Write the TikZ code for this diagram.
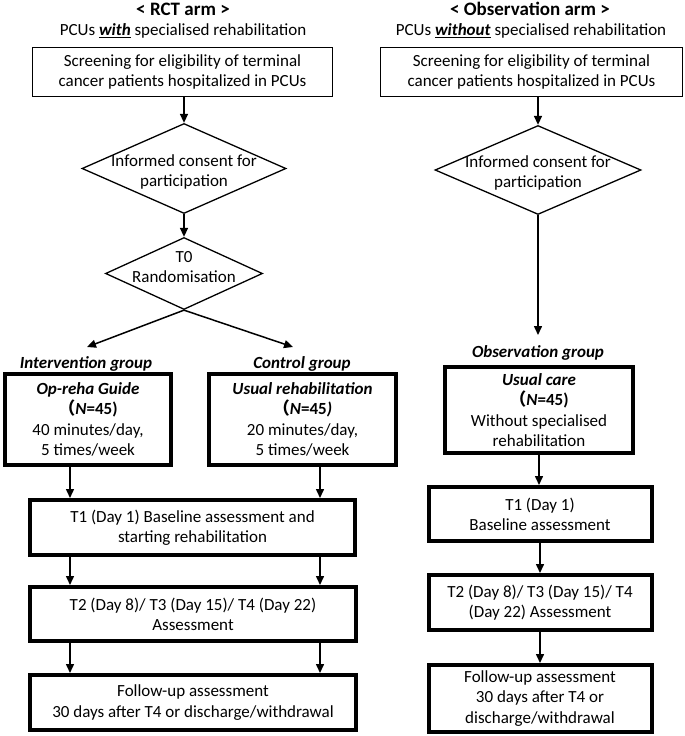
\documentclass[tikz,border=0pt]{standalone}
\usepackage{fontspec}
\setmainfont{Carlito}
\newfontfamily\cjkfont{Noto Sans CJK JP}
\usetikzlibrary{arrows.meta,shapes.geometric}
\begin{document}
\begin{tikzpicture}[x=1pt,y=-1pt,
  every node/.style={font=\fontsize{17}{20.3}\selectfont, inner sep=0pt},
  thinbox/.style={draw, line width=1.3pt, align=center},
  thickbox/.style={draw, line width=4pt, align=center},
  dia/.style={draw, diamond, line width=1.3pt},
  arr/.style={line width=1.5pt, -{Triangle[length=9pt,width=8pt]}},
  ttl/.style={font=\fontsize{19}{23}\selectfont\bfseries},
  grp/.style={font=\fontsize{17}{20}\selectfont\bfseries\itshape},
]
\useasboundingbox (0,0) rectangle (685,736);

% ---------- RCT arm ----------
\node[ttl] (t1) at (183,9) {< RCT arm >};
\node (s1) at (183,31) {PCUs \underline{\textbf{\textit{with}}} specialised rehabilitation};
\node[thinbox, minimum width=300pt, minimum height=49pt] (scr1) at (182.5,72)
  {Screening for eligibility of terminal\\cancer patients hospitalized in PCUs};
\node[dia, minimum width=204pt, minimum height=90pt] (d1) at (184,168.5) {};
\node[align=center] (d1t) at (184,172) {Informed consent for\\participation};
\node[dia, minimum width=157pt, minimum height=72pt] (d0) at (184,273.5) {};
\node[align=center] (d0t) at (184,267) {T0\\Randomisation};
\coordinate (gl) at (87,347);
\coordinate (gr) at (293,347);
\node[grp] (ig) at (86,364) {Intervention group};
\node[grp] (cg) at (302,364) {Control group};
\node[thickbox, minimum width=166pt, minimum height=91pt] (ib) at (88,419.5)
  {\textbf{\textit{Op-reha Guide}}\\\textbf{{\cjkfont （}\textit{N}=45)}\\40 minutes/day,\\5 times/week};
\node[thickbox, minimum width=187pt, minimum height=91pt] (cb) at (302.5,419.5)
  {\textbf{\textit{Usual rehabilitation}}\\\textbf{{\cjkfont （}\textit{N}=45\textit{)}}\\20 minutes/day,\\5 times/week};
\node[thickbox, minimum width=325pt, minimum height=55pt] (t1l) at (192.5,527.5)
  {T1 (Day 1) Baseline assessment and\\starting rehabilitation};
\node[thickbox, minimum width=326pt, minimum height=54pt] (t2l) at (193,614)
  {T2 (Day 8)/ T3 (Day 15)/ T4 (Day 22)\\Assessment};
\node[thickbox, minimum width=326pt, minimum height=55pt] (ful) at (193,702.5)
  {Follow-up assessment\\30 days after T4 or discharge/withdrawal};

\coordinate (xl) at (70,0);
\coordinate (xr) at (320,0);
\draw[arr] (scr1.south -| d1.north) -- (d1.north);
\draw[arr] (d1.south) -- (d0.north);
\draw[arr] (d0.south) -- (gl);
\draw[arr] (d0.south) -- (gr);
\draw[arr] (ib.south -| xl) -- (t1l.north -| xl);
\draw[arr] (cb.south -| xr) -- (t1l.north -| xr);
\draw[arr] (t1l.south -| xl) -- (t2l.north -| xl);
\draw[arr] (t1l.south -| xr) -- (t2l.north -| xr);
\draw[arr] (t2l.south -| xl) -- (ful.north -| xl);
\draw[arr] (t2l.south -| xr) -- (ful.north -| xr);

% ---------- Observation arm ----------
\node[ttl] (t2) at (530,9) {< Observation arm >};
\node (s2) at (531,31) {PCUs \underline{\textbf{\textit{without}}} specialised rehabilitation};
\node[thinbox, minimum width=302pt, minimum height=49pt] (scr2) at (531.5,72)
  {Screening for eligibility of terminal\\cancer patients hospitalized in PCUs};
\node[dia, minimum width=206pt, minimum height=89pt] (d2) at (538,170) {};
\node[align=center] (d2t) at (538,173) {Informed consent for\\participation};
\coordinate (og) at (538,335);
\node[grp] (obg) at (538,353) {Observation group};
\node[thickbox, minimum width=188pt, minimum height=86pt] (ub) at (539,410)
  {\textbf{\textit{Usual care}}\\\textbf{{\cjkfont （}\textit{N}=45)}\\Without specialised\\rehabilitation};
\node[thickbox, minimum width=223pt, minimum height=54pt] (t1r) at (540,514)
  {T1 (Day 1)\\Baseline assessment};
\node[thickbox, minimum width=223pt, minimum height=55pt] (t2r) at (540,602.5)
  {T2 (Day 8)/ T3 (Day 15)/ T4\\(Day 22) Assessment};
\node[thickbox, minimum width=223pt, minimum height=67pt] (fur) at (540,698.5)
  {Follow-up assessment\\30 days after T4 or\\discharge/withdrawal};

\draw[arr] (scr2.south -| d2.north) -- (d2.north);
\draw[arr] (d2.south) -- (og);
\draw[arr] (ub.south) -- (ub.south |- t1r.north);
\draw[arr] (t1r.south) -- (t2r.north);
\draw[arr] (t2r.south) -- (fur.north);
\end{tikzpicture}
\end{document}
